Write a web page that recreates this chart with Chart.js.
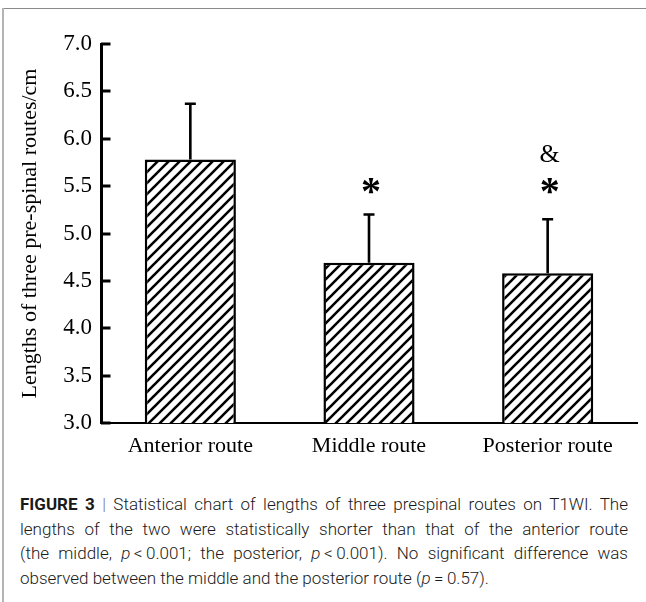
<!DOCTYPE html>
<html>
<head>
<meta charset="utf-8">
<script src="https://cdn.jsdelivr.net/npm/chart.js@4.4.1/dist/chart.umd.min.js"></script>
<style>
  html, body { margin: 0; padding: 0; background: #fff; }
  body { width: 646px; height: 602px; position: relative; overflow: hidden; }
  .frame-top { position: absolute; left: 3px; top: 8px; width: 643px; border-top: 1.5px solid #8a8a8a; }
  .frame-left { position: absolute; left: 2px; top: 8px; height: 594px; border-left: 2px solid #b4b4b4; }
  #wrap { position: absolute; left: 0; top: 0; width: 646px; height: 470px; }
  .caption {
    position: absolute; left: 20px; top: 492px; width: 608px;
    font-family: "Roboto", "Liberation Sans", sans-serif; font-weight: 300;
    font-size: 17px; line-height: 24.5px; color: #1a1a1a;
  }
  .caption b { font-weight: 700; }
  .caption div { text-align: justify; text-align-last: justify; white-space: nowrap; }
  .caption div.last { text-align-last: left; }
  .caption .sep { color: #777; }
</style>
</head>
<body>
<div class="frame-top"></div>
<div class="frame-left"></div>
<div id="wrap"><canvas id="chart" width="646" height="470"></canvas></div>
<div class="caption">
  <div><b>FIGURE 3</b> <span class="sep">|</span> Statistical chart of lengths of three prespinal routes on T1WI. The</div>
  <div>lengths of the two were statistically shorter than that of the anterior route</div>
  <div>(the middle, <i>p</i>&thinsp;&lt;&thinsp;0.001; the posterior, <i>p</i>&thinsp;&lt;&thinsp;0.001). No significant difference was</div>
  <div class="last">observed between the middle and the posterior route (<i>p</i>&thinsp;=&thinsp;0.57).</div>
</div>
<script>
  // ---- data ----
  const routes = ['Anterior route', 'Middle route', 'Posterior route'];
  const meanLength = [5.78, 4.69, 4.58];
  const sdLength = [0.59, 0.51, 0.57];
  const yTickValues = [3.0, 3.5, 4.0, 4.5, 5.0, 5.5, 6.0, 6.5, 7.0];
  const marks = [[], ['*'], ['*', '&']];

  const SERIF = '"Liberation Serif", "Times New Roman", serif';
  const canvas = document.getElementById('chart');

  // diagonal hatch fill for the bars
  function hatchPattern() {
    const size = 11;
    const tile = document.createElement('canvas');
    tile.width = tile.height = size;
    const g = tile.getContext('2d');
    g.fillStyle = '#fff';
    g.fillRect(0, 0, size, size);
    g.strokeStyle = '#000';
    g.lineWidth = 2.6;
    g.beginPath();
    g.moveTo(-2, size + 2); g.lineTo(size + 2, -2);
    g.moveTo(-2, 2); g.lineTo(2, -2);
    g.moveTo(size - 2, size + 2); g.lineTo(size + 2, size - 2);
    g.stroke();
    return canvas.getContext('2d').createPattern(tile, 'repeat');
  }

  // inward tick marks on the y axis
  const innerTicks = {
    id: 'innerTicks',
    afterDatasetsDraw(chart) {
      const { ctx, scales: { y }, chartArea } = chart;
      ctx.save();
      ctx.strokeStyle = '#000';
      ctx.lineWidth = 3;
      y.ticks.forEach(t => {
        const py = Math.round(y.getPixelForValue(t.value));
        ctx.beginPath();
        ctx.moveTo(chartArea.left, py);
        ctx.lineTo(chartArea.left + 9.5, py);
        ctx.stroke();
      });
      ctx.restore();
    }
  };

  // SD error bars (upper only) + significance marks
  const errorBars = {
    id: 'errorBars',
    afterDatasetsDraw(chart) {
      const { ctx, scales: { y } } = chart;
      const meta = chart.getDatasetMeta(0);
      ctx.save();
      ctx.strokeStyle = '#000';
      ctx.fillStyle = '#000';
      ctx.lineWidth = 2.6;
      meta.data.forEach((bar, i) => {
        const top = y.getPixelForValue(meanLength[i] + sdLength[i]);
        ctx.beginPath();
        ctx.moveTo(bar.x, bar.y);
        ctx.lineTo(bar.x, top);
        ctx.moveTo(bar.x - 5.5, top);
        ctx.lineTo(bar.x + 5.5, top);
        ctx.stroke();

        marks[i].forEach(sym => {
          const level = sym === '*' ? 5.5 : 5.84;
          ctx.font = sym === '*' ? 'bold 40px ' + SERIF : '26px ' + SERIF;
          const m = ctx.measureText(sym);
          const h = m.actualBoundingBoxAscent + m.actualBoundingBoxDescent;
          const yc = y.getPixelForValue(level);
          ctx.textAlign = 'center';
          ctx.textBaseline = 'alphabetic';
          ctx.fillText(sym, bar.x + 2, yc + m.actualBoundingBoxAscent - h / 2);
        });
      });
      ctx.restore();
    }
  };

  new Chart(canvas, {
    type: 'bar',
    data: {
      labels: routes,
      datasets: [{
        data: meanLength,
        backgroundColor: hatchPattern(),
        borderColor: '#000',
        borderWidth: 2.5,
        borderSkipped: false,
        barPercentage: 0.51,
        categoryPercentage: 1
      }]
    },
    options: {
      responsive: false,
      animation: false,
      layout: { padding: { top: 44, right: 9, left: 0, bottom: 0 } },
      plugins: { legend: { display: false }, tooltip: { enabled: false } },
      scales: {
        x: {
          grid: { display: false, drawTicks: false },
          border: { color: '#000', width: 2 },
          ticks: { color: '#000', padding: 10, font: { family: SERIF, size: 22 } },
          afterFit: s => { s.height = 47; }
        },
        y: {
          min: 3,
          max: 7,
          afterBuildTicks: s => { s.ticks = yTickValues.map(v => ({ value: v })); },
          grid: { drawOnChartArea: false, drawTicks: false, tickLength: 0 },
          border: { color: '#000', width: 3 },
          ticks: {
            color: '#000', padding: 9,
            font: { family: SERIF, size: 23 },
            callback: v => Number(v).toFixed(1)
          },
          title: {
            display: true,
            text: 'Lengths of three pre-spinal routes/cm',
            color: '#000',
            font: { family: SERIF, size: 22 },
            padding: { top: 17, bottom: 0 }
          },
          afterFit: s => { s.width = 101; }
        }
      }
    },
    plugins: [innerTicks, errorBars]
  });
</script>
</body>
</html>
